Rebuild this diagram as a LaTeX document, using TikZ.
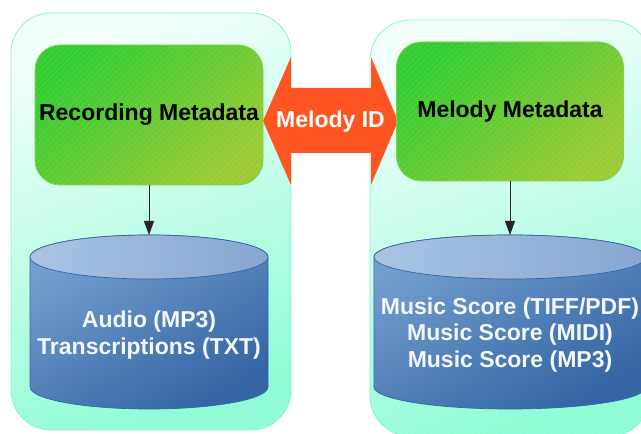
\documentclass[tikz,border=0pt]{standalone}
\usepackage{fontspec}
\setmainfont{Liberation Sans}
\usetikzlibrary{arrows.meta,patterns.meta}

\definecolor{panTop}{HTML}{F2FFFB}
\definecolor{panBot}{HTML}{8EFCD4}
\definecolor{panEdge}{HTML}{80F5D0}
\definecolor{grnA}{HTML}{33CC33}
\definecolor{grnB}{HTML}{9ACB33}
\definecolor{grnEdge}{HTML}{7FD24A}
\definecolor{cylA}{HTML}{729FCF}
\definecolor{cylB}{HTML}{3465A4}
\definecolor{capA}{HTML}{A9C4E4}
\definecolor{capB}{HTML}{87A7D1}
\definecolor{cylEdge}{HTML}{3465A4}
\definecolor{idFill}{HTML}{FF5522}
\definecolor{txtW}{HTML}{F4F7FB}

\newcommand\lblfont{\bfseries\fontsize{23}{26.3}\selectfont}

\tikzset{
  hatch/.style={postaction={fill opacity=0.18,
      pattern={Lines[angle=45,distance=4pt,line width=0.5pt]},
      pattern color=white}},
  panel/.style={draw=panEdge, line width=0.8pt, rounded corners=40pt,
    top color=panTop, bottom color=panBot, shading angle=20,
    inner sep=0pt, hatch},
  meta/.style={draw=grnEdge, line width=0.8pt, rounded corners=25pt,
    top color=grnA, bottom color=grnB, shading angle=40,
    inner sep=0pt, font=\lblfont, text=black, hatch},
  idarrow/.style={fill=idFill, draw=none},
  cylbody/.style={draw=cylEdge, line width=0.7pt,
    top color=cylA, bottom color=cylB, shading angle=30},
  cylcap/.style={draw=cylEdge, line width=0.7pt,
    left color=capA, right color=capB},
  store/.style={font=\lblfont, text=txtW, align=center, inner sep=0pt},
  conn/.style={draw=black!85, line width=0.9pt,
    -{Triangle[length=14pt,width=10pt]}}
}

\begin{document}
\begin{tikzpicture}[x=1pt,y=1pt]
\useasboundingbox (0,0) rectangle (641,434);

% background panels
\node[panel, minimum width=280, minimum height=417] (leftpanel) at (151,212.5) {};
\node[panel, minimum width=280, minimum height=416] (rightpanel) at (510,206) {};

% double-headed link between the two metadata blocks
\path[idarrow] (263,313) -- (291,377) -- (291,346) -- (371,346) -- (371,377)
  -- (398,313) -- (371,249) -- (371,281) -- (291,281) -- (291,249) -- cycle;
\node[font=\lblfont, text=white, inner sep=0pt] (melodyid) at (330.5,312) {Melody ID};

% metadata blocks
\node[meta, minimum width=228, minimum height=140] (rec) at (149,319) {Recording Metadata};
\node[meta, minimum width=227, minimum height=139] (mel) at (510,322.5) {Melody Metadata};

% left data store
\path[cylbody] (30,177) -- (30,47) arc[start angle=180,end angle=360,x radius=119,y radius=22]
  -- (268,177) arc[start angle=0,end angle=180,x radius=119,y radius=22] -- cycle;
\path[cylcap] (149,177) ellipse[x radius=119,y radius=22];
\coordinate (lefttop) at (149,199);
\node[store] (audio) at (149,99) {Audio (MP3)\\Transcriptions (TXT)};

% right data store
\path[cylbody] (374,177) -- (374,47) arc[start angle=180,end angle=360,x radius=136,y radius=22]
  -- (646,177) arc[start angle=0,end angle=180,x radius=136,y radius=22] -- cycle;
\path[cylcap] (510,177) ellipse[x radius=136,y radius=22];
\coordinate (righttop) at (510,199);
\node[store] (scores) at (510,99) {Music Score (TIFF/PDF)\\Music Score (MIDI)\\Music Score (MP3)};

% connectors
\draw[conn] (rec.south) -- (lefttop);
\draw[conn] (mel.south) -- (righttop);
\end{tikzpicture}
\end{document}
